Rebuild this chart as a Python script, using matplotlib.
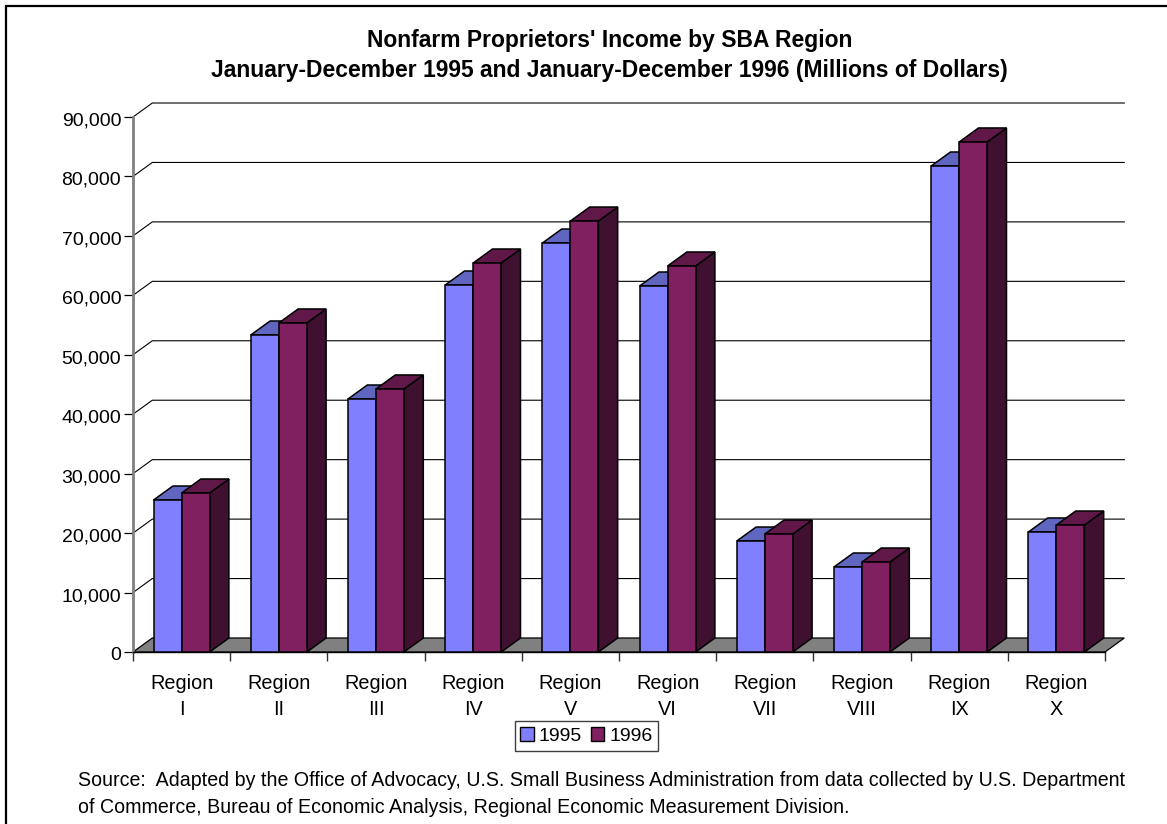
import matplotlib
matplotlib.use("Agg")
import matplotlib.pyplot as plt
from matplotlib.lines import Line2D
from matplotlib.patches import Patch, Polygon
from matplotlib.transforms import ScaledTranslation

plt.rcParams['font.family'] = ['Liberation Sans', 'DejaVu Sans']

regions = ["Region\nI", "Region\nII", "Region\nIII", "Region\nIV", "Region\nV",
           "Region\nVI", "Region\nVII", "Region\nVIII", "Region\nIX", "Region\nX"]
income_1995 = [25570, 53330, 42560, 61740, 68800, 61570, 18670, 14300, 81760, 20190]
income_1996 = [26750, 55350, 44250, 65440, 72500, 64940, 19850, 15140, 85800, 21360]
y_ticks = [0, 10000, 20000, 30000, 40000, 50000, 60000, 70000, 80000, 90000]

W, H = 1167, 824
fig = plt.figure(figsize=(W / 100, H / 100), dpi=100)
ax = fig.add_axes([133 / W, 1 - 652 / H, 972 / W, 535 / H])
ax.set_xlim(0, 10)
ax.set_ylim(0, 90000)

# fake 3d depth, in data units
dx = 19.3 / 97.2
dy = 14 / 535 * 90000
bar_w = 0.288

# floor and back wall
ax.add_patch(Polygon([(0, 0), (dx, dy), (10 + dx, dy), (10, 0)], closed=True,
                     fc="#808080", ec="black", lw=0.9, clip_on=False, zorder=1))
for v in y_ticks[1:]:
    ax.plot([0, dx, 10 + dx], [v, v + dy, v + dy], color="black", lw=0.8,
            clip_on=False, zorder=1, solid_joinstyle="miter")


def draw_bar(x, v, front, top, side, z):
    ax.add_patch(Polygon([(x + bar_w, 0), (x + bar_w + dx, dy), (x + bar_w + dx, v + dy), (x + bar_w, v)],
                         closed=True, fc=side, ec="black", lw=1.1, clip_on=False, zorder=z))
    ax.add_patch(Polygon([(x, v), (x + dx, v + dy), (x + bar_w + dx, v + dy), (x + bar_w, v)],
                         closed=True, fc=top, ec="black", lw=1.1, clip_on=False, zorder=z))
    ax.bar(x, v, bar_w, align="edge", color=front, edgecolor="black", lw=1.1, zorder=z, clip_on=False)


for i in range(len(regions)):
    center = i + 0.5
    draw_bar(center - bar_w, income_1995[i], "#8080ff", "#6066c0", "#404080", 3 + i * 0.1)
    draw_bar(center, income_1996[i], "#802060", "#601848", "#401030", 3 + i * 0.1 + 0.05)

ax.set_xticks(range(11))
ax.set_xticklabels([])
ax.set_xticks([i + 0.5 for i in range(10)], regions, minor=True)
ax.tick_params(axis="x", which="major", length=6.5, width=1, color="#303030")
ax.tick_params(axis="x", which="minor", length=0, pad=16, labelsize=14.3)
for t in ax.get_xticklabels(minor=True):
    t.set_linespacing(1.42)
ax.set_yticks(y_ticks)
ax.set_yticklabels([f"{v:,}" for v in y_ticks])
ax.tick_params(axis="y", length=6.5, width=0.9, pad=2, labelsize=14, color="black")
# y labels sit a little below their ticks in the original
for t in ax.get_yticklabels():
    t.set_transform(t.get_transform() + ScaledTranslation(0, -2 / 100, fig.dpi_scale_trans))

ax.spines["top"].set_visible(False)
ax.spines["right"].set_visible(False)
ax.spines["left"].set_color("#808080")
ax.spines["left"].set_linewidth(2)
ax.spines["bottom"].set_color("black")
ax.spines["bottom"].set_linewidth(1)
ax.patch.set_visible(False)

fig.text(609.5 / W, 1 - 40.5 / H, "Nonfarm Proprietors' Income by SBA Region", ha="center", va="center",
         fontsize=16.45, fontweight="bold")
fig.text(609.5 / W, 1 - 70.5 / H, "January-December 1995 and January-December 1996 (Millions of Dollars)",
         ha="center", va="center", fontsize=16.45, fontweight="bold")

handles = [Patch(fc="#8080ff", ec="black", label="1995"), Patch(fc="#802060", ec="black", label="1996")]
fig.legend(handles=handles, loc="center", bbox_to_anchor=(586.5 / W, 1 - 736 / H), ncol=2, fontsize=14,
           frameon=True, fancybox=False, edgecolor="#404040", framealpha=1, handlelength=0.7, handleheight=0.7,
           handletextpad=0.25, columnspacing=0.45, borderpad=0.3, borderaxespad=0)

fig.text(78 / W, 1 - 780 / H,
         "Source:  Adapted by the Office of Advocacy, U.S. Small Business Administration from data collected by U.S. Department",
         ha="left", va="center", fontsize=14.1)
fig.text(78 / W, 1 - 807.5 / H,
         "of Commerce, Bureau of Economic Analysis, Regional Economic Measurement Division.",
         ha="left", va="center", fontsize=14.1)

# frame around the figure
fig.add_artist(Line2D([6 / W, 6 / W, 1], [0, 1 - 5.5 / H, 1 - 5.5 / H], color="black", lw=1.6,
                      solid_joinstyle="miter"))

fig.savefig("out.png", dpi=100)
